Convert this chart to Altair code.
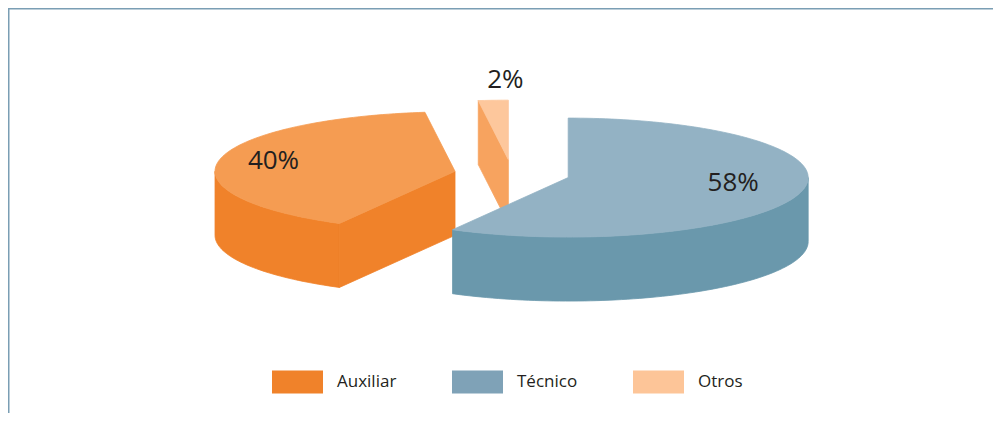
import numpy as np
import pandas as pd
import altair as alt

# ---------------- data ----------------
categories = ["Auxiliar", "Técnico", "Otros"]      # legend order
values = [40, 58, 2]                                # percent
labels = ["40%", "58%", "2%"]
pie_order = ["Técnico", "Auxiliar", "Otros"]        # clockwise from 12 o'clock

# ---------------- style / layout ----------------
TOP_COL = {"Auxiliar": "#F59C52", "Técnico": "#93B2C4", "Otros": "#FDC79C"}
SIDE_COL = {"Auxiliar": "#F0822A", "Técnico": "#6A98AC", "Otros": "#F7A35F"}
LEGEND_COL = ["#F0822A", "#7FA2B7", "#FDC598"]
TEXT_COL = "#231F20"
FRAME_COL = "#7A9EB4"
FONT = "Open Sans"

W, H = 985, 405                 # plot area (pixels)
CX, CY = 504, 166               # pie centre before explosion
RX, RY = 240, 59.5              # ellipse radii of the top face
DEPTH = 64                      # thickness of the pie
EXPLODE = 58                    # distance each slice is pulled out
LABEL_KX = {"Técnico": 0.71, "Auxiliar": 0.77, "Otros": 0.2}
LABEL_KY = {"Técnico": 0.34, "Auxiliar": 0.95, "Otros": 1.34}

# ---------------- geometry built from the values ----------------
val = dict(zip(categories, values))
lab = dict(zip(categories, labels))
total = float(sum(values))

slices = []
acc = 0.0
for c in pie_order:
    a0 = acc / total * 360.0
    acc += val[c]
    a1 = acc / total * 360.0
    m = np.radians((a0 + a1) / 2)
    cx = CX + EXPLODE * np.sin(m)
    cy = CY - EXPLODE * np.cos(m) * RY / RX
    slices.append(dict(cat=c, a0=a0, a1=a1, cx=cx, cy=cy, m=m))


def pt(s, a, dy=0.0):
    r = np.radians(a)
    return (s["cx"] + RX * np.sin(r), s["cy"] - RY * np.cos(r) + dy)


def arc(s, a0, a1, dy=0.0):
    n = max(2, int(abs(a1 - a0) / 1.5) + 2)
    return [pt(s, a, dy) for a in np.linspace(a0, a1, n)]


faces = []  # list of (points, color) in painter's order
for s in sorted(slices, key=lambda d: d["cy"]):
    c = s["cat"]
    ctr = (s["cx"], s["cy"])
    ctr_b = (s["cx"], s["cy"] + DEPTH)
    # front outer wall
    lo, hi = max(s["a0"], 90.0), min(s["a1"], 270.0)
    if hi > lo:
        faces.append((arc(s, lo, hi) + arc(s, hi, lo, DEPTH), SIDE_COL[c]))
    # cut faces
    if np.sin(np.radians(s["a0"])) < -1e-6:
        faces.append(([ctr, pt(s, s["a0"]), pt(s, s["a0"], DEPTH), ctr_b], SIDE_COL[c]))
    if np.sin(np.radians(s["a1"])) > 1e-6:
        faces.append(([ctr, pt(s, s["a1"]), pt(s, s["a1"], DEPTH), ctr_b], SIDE_COL[c]))
    # top face
    faces.append(([ctr] + arc(s, s["a0"], s["a1"]), TOP_COL[c]))

rows = []
for k, (pts, col) in enumerate(faces):
    pts = pts + [pts[0]]
    for i, (x, y) in enumerate(pts):
        rows.append(dict(face=k, idx=i, x=x, y=y, color=col))
geo = pd.DataFrame(rows)

lab_rows = []
for s in slices:
    c = s["cat"]
    lab_rows.append(dict(
        x=s["cx"] + LABEL_KX[c] * RX * np.sin(s["m"]),
        y=s["cy"] - LABEL_KY[c] * RY * np.cos(s["m"]),
        text=lab[c]))
lab_df = pd.DataFrame(lab_rows)

xs = alt.Scale(domain=[0, W], nice=False, zero=False)
ys = alt.Scale(domain=[0, H], nice=False, zero=False, reverse=True)

layers = []
for k in range(len(faces)):
    layers.append(
        alt.Chart(geo)
        .transform_filter(alt.datum.face == k)
        .mark_line(filled=True, strokeWidth=0.8)
        .encode(
            x=alt.X("x:Q", scale=xs, axis=None),
            y=alt.Y("y:Q", scale=ys, axis=None),
            order=alt.Order("idx:Q"),
            fill=alt.Fill("color:N", scale=None),
            stroke=alt.Stroke("color:N", scale=None),
        )
    )

text_layer = alt.Chart(lab_df).mark_text(
    font=FONT, fontSize=26, color=TEXT_COL, align="center", baseline="middle"
).encode(
    x=alt.X("x:Q", scale=xs, axis=None),
    y=alt.Y("y:Q", scale=ys, axis=None),
    text="text:N",
)

legend_df = pd.DataFrame({"category": categories})
legend_layer = alt.Chart(legend_df).transform_filter("false").mark_point(
    filled=True
).encode(
    x=alt.X("category:N", axis=None),
    color=alt.Color(
        "category:N",
        scale=alt.Scale(domain=categories, range=LEGEND_COL),
        sort=categories,
        legend=alt.Legend(
            title=None,
            orient="none",
            legendX=264,
            legendY=348,
            direction="horizontal",
            symbolType="M-1,-0.451H1V0.451H-1Z",
            symbolSize=2601,
            symbolStrokeWidth=0,
            symbolOpacity=1,
            labelFont=FONT,
            labelFontSize=17,
            labelColor=TEXT_COL,
            labelOffset=14,
            columnPadding=55,
            padding=0,
        ),
    ),
)

frame_top = alt.Chart(alt.Data(values=[{"f": 1}])).mark_rule(
    color=FRAME_COL, strokeWidth=1.5
).encode(x=alt.value(0), x2=alt.value(W), y=alt.value(0.75))
frame_left = alt.Chart(alt.Data(values=[{"f": 1}])).mark_rule(
    color=FRAME_COL, strokeWidth=1.5
).encode(x=alt.value(0.75), y=alt.value(0), y2=alt.value(H))

chart = (
    alt.layer(frame_top, frame_left, *layers, text_layer, legend_layer)
    .resolve_scale(x="independent")
    .properties(width=W, height=H, padding=0, autosize=alt.AutoSizeParams(type="none"))
    .configure_view(strokeWidth=0)
)

chart.save("out.html", embed_options={"renderer": "svg", "actions": False})
